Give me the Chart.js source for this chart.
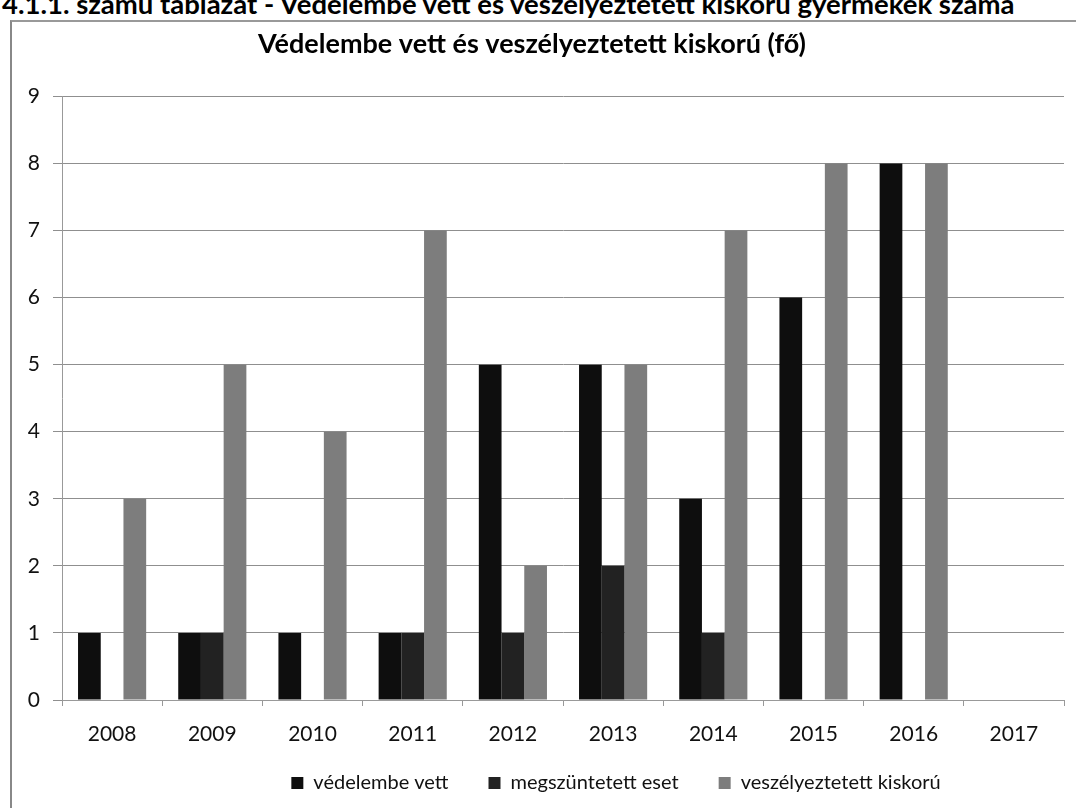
<!DOCTYPE html>
<html>
<head>
<meta charset="utf-8">
<script src="https://cdn.jsdelivr.net/npm/chart.js@4.4.0/dist/chart.umd.min.js"></script>
<style>
  html, body { margin: 0; padding: 0; background: #fff; }
  #wrap { position: relative; width: 1076px; height: 808px; overflow: hidden; }
  #heading { position: absolute; left: 2px; top: -13px; font: bold 27.5px Lato, sans-serif; line-height: 1.2; color: #000; white-space: nowrap; }
  #frame { position: absolute; left: 10px; top: 20px; right: -2px; bottom: -2px; border-left: 2px solid #888; border-top: 2px solid #999; }
  canvas { position: absolute; left: 0; top: 0; }
</style>
</head>
<body>
<div id="wrap">
  <div id="heading">4.1.1. számú táblázat - Védelembe vett és veszélyeztetett kiskorú gyermekek száma</div>
  <div id="frame"></div>
  <canvas id="c" width="1076" height="808"></canvas>
</div>
<script>
// adatok
const years = ['2008', '2009', '2010', '2011', '2012', '2013', '2014', '2015', '2016', '2017'];
const vedelembeVett = [1, 1, 1, 1, 5, 5, 3, 6, 8, 0];
const megszuntetett = [0, 1, 0, 1, 1, 2, 1, 0, 0, 0];
const veszelyeztetett = [3, 5, 4, 7, 2, 5, 7, 8, 8, 0];
const yTicks = [0, 1, 2, 3, 4, 5, 6, 7, 8, 9];

const font = 'Lato, "Open Sans", sans-serif';

// a jelmagyarázat az eredetin kicsit jobbra csúszik, és feljebb van
const legendShift = {
    id: 'legendShift',
    afterLayout(chart) {
        const lg = chart.legend;
        if (!lg) return;
        lg.left += 168;
        lg.top -= 15;
        lg.height += 15;
    }
};

const ctx = document.getElementById('c').getContext('2d');
new Chart(ctx, {
    type: 'bar',
    data: {
        labels: years,
        datasets: [
            { label: 'védelembe vett', data: vedelembeVett, backgroundColor: '#0e0e0e' },
            { label: 'megszüntetett eset', data: megszuntetett, backgroundColor: '#222' },
            { label: 'veszélyeztetett kiskorú', data: veszelyeztetett, backgroundColor: '#7d7d7d' }
        ]
    },
    options: {
        responsive: false,
        animation: false,
        layout: { padding: { left: 0, right: 12, top: 0, bottom: 4 } },
        datasets: { bar: { categoryPercentage: 0.68, barPercentage: 1.0 } },
        scales: {
            x: {
                grid: { display: true, drawOnChartArea: false, drawTicks: true, tickLength: 6, color: '#999' },
                border: { color: '#999' },
                ticks: { color: '#111', font: { family: font, size: 21 }, padding: 16 },
                afterFit: s => { s.height = 48; }
            },
            y: {
                min: 0, max: 9,
                afterBuildTicks: s => { s.ticks = yTicks.map(v => ({ value: v })); },
                grid: { color: '#8f8f8f', tickLength: 9 },
                border: { color: '#999' },
                ticks: { color: '#111', font: { family: font, size: 21 }, padding: 13 },
                afterFit: s => { s.width = 62; }
            }
        },
        plugins: {
            title: {
                display: true,
                text: 'Védelembe vett és veszélyeztetett kiskorú (fő)',
                color: '#000',
                font: { family: font, size: 27, weight: 'bold' },
                padding: { top: 28, bottom: 36 }
            },
            legend: {
                position: 'bottom',
                maxHeight: 56,
                labels: {
                    color: '#111',
                    font: { family: font, size: 20 },
                    boxWidth: 12, boxHeight: 12,
                    padding: 40
                }
            },
            tooltip: { enabled: false }
        }
    },
    plugins: [legendShift]
});
</script>
</body>
</html>
